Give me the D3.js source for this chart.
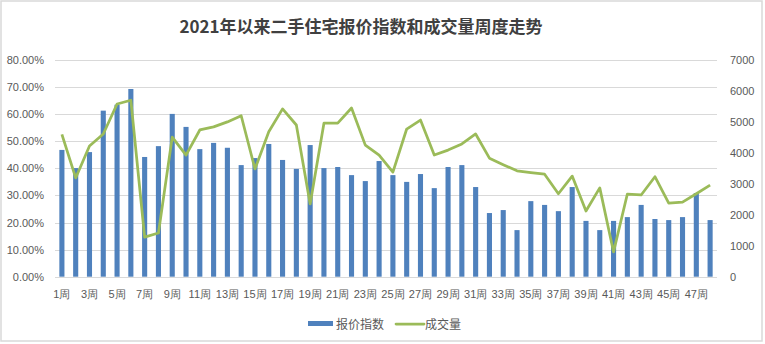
<!DOCTYPE html>
<html>
<head>
<meta charset="utf-8">
<script src="https://cdn.jsdelivr.net/npm/d3@7/dist/d3.min.js"></script>
<style>
  html, body { margin: 0; padding: 0; background: #fff; }
  svg { display: block; font-family: "Microsoft YaHei", "Noto Sans CJK SC", sans-serif; }
</style>
</head>
<body>
<svg id="chart" width="765" height="344"></svg>
<script>
// Weekly data since the start of 2021
const weeks = d3.range(1, 49).map(i => i + "周");
const priceIndex = [46.8, 40.1, 46.0, 61.3, 63.5, 69.3, 44.2, 48.2, 60.1, 55.3,
  47.1, 49.4, 47.6, 41.2, 43.8, 49.0, 43.1, 39.8, 48.6, 40.1,
  40.5, 37.5, 35.3, 42.7, 37.5, 35.0, 37.9, 32.7, 40.5, 41.2,
  33.1, 23.5, 24.6, 17.2, 27.9, 26.5, 24.2, 33.1, 20.6, 17.2,
  20.6, 22.0, 26.5, 21.3, 20.9, 22.0, 30.9, 20.9];
const volume = [4600, 3190, 4220, 4610, 5580, 5700, 1280, 1410, 4510, 3930,
  4740, 4840, 5000, 5200, 3480, 4680, 5420, 4900, 2350, 4960,
  4960, 5450, 4250, 3930, 3380, 4770, 5060, 3930, 4090, 4290,
  4610, 3830, 3620, 3420, 3360, 3310, 2680, 3250, 2120, 2870,
  800, 2670, 2640, 3230, 2380, 2410, 2680, 2960];
const leftTicks = [0, 10, 20, 30, 40, 50, 60, 70, 80];
const rightTicks = [0, 1000, 2000, 3000, 4000, 5000, 6000, 7000];
const seriesNames = ["报价指数", "成交量"];
const title = "2021年以来二手住宅报价指数和成交量周度走势";

const svg = d3.select("#chart");
const plot = { left: 55, right: 717, top: 60, bottom: 276.7 };

// outer frame
svg.append("rect").attr("x", 1).attr("y", 1).attr("width", 761).attr("height", 340)
  .attr("fill", "#fff").attr("stroke", "#d9d9d9").attr("stroke-width", 1.5);

const x = d3.scaleBand().domain(weeks).range([plot.left, plot.right]).paddingInner(0.63).paddingOuter(0.315);
const yL = d3.scaleLinear().domain([0, 80]).range([plot.bottom, plot.top]);
const yR = d3.scaleLinear().domain([0, 7000]).range([plot.bottom, plot.top]);

// title
svg.append("text").attr("x", 361).attr("y", 33).attr("text-anchor", "middle")
  .attr("font-size", 17).attr("font-weight", "bold").attr("fill", "#404040").text(title);

// gridlines
svg.append("g").selectAll("line").data(leftTicks).join("line")
  .attr("x1", plot.left).attr("x2", plot.right)
  .attr("y1", d => Math.round(yL(d)) + 0.5).attr("y2", d => Math.round(yL(d)) + 0.5)
  .attr("stroke", "#d9d9d9").attr("stroke-width", 1);

// left axis (percent)
const axL = svg.append("g").attr("transform", `translate(${plot.left},0)`)
  .call(d3.axisLeft(yL).tickValues(leftTicks).tickSize(0).tickPadding(11).tickFormat(d => d.toFixed(2) + "%"));
axL.select(".domain").remove();
axL.selectAll("text").attr("font-size", 11).attr("fill", "#595959").attr("font-family", "inherit");

// right axis (volume)
const axR = svg.append("g").attr("transform", `translate(${plot.right},0)`)
  .call(d3.axisRight(yR).tickValues(rightTicks).tickSize(0).tickPadding(13).tickFormat(d3.format("d")));
axR.select(".domain").remove();
axR.selectAll("text").attr("font-size", 11).attr("fill", "#595959").attr("font-family", "inherit");

// bottom axis: every other week labelled
const axB = svg.append("g").attr("transform", `translate(0,${plot.bottom})`)
  .call(d3.axisBottom(x).tickValues(weeks.filter((d, i) => i % 2 === 0)).tickSize(0).tickPadding(14));
axB.select(".domain").remove();
axB.selectAll("text").attr("font-size", 11).attr("fill", "#595959").attr("font-family", "inherit");

// bars
svg.append("g").selectAll("rect").data(priceIndex).join("rect")
  .attr("x", (d, i) => x(weeks[i])).attr("width", x.bandwidth())
  .attr("y", d => yL(d)).attr("height", d => yL(0) - yL(d))
  .attr("fill", "#4f81bd");

// line
const line = d3.line().x((d, i) => x(weeks[i]) + x.bandwidth() / 2).y(d => yR(d));
svg.append("path").datum(volume).attr("d", line)
  .attr("fill", "none").attr("stroke", "#9bbb59").attr("stroke-width", 2.75)
  .attr("stroke-linejoin", "round");

// legend
const lg = svg.append("g");
lg.append("rect").attr("x", 308).attr("y", 321).attr("width", 25).attr("height", 5).attr("fill", "#4f81bd");
lg.append("text").attr("x", 336).attr("y", 328.5).attr("font-size", 12).attr("fill", "#595959").text(seriesNames[0]);
lg.append("line").attr("x1", 396).attr("x2", 424).attr("y1", 324).attr("y2", 324)
  .attr("stroke", "#9bbb59").attr("stroke-width", 2.75).attr("stroke-linecap", "round");
lg.append("text").attr("x", 425).attr("y", 328.5).attr("font-size", 12).attr("fill", "#595959").text(seriesNames[1]);
</script>
</body>
</html>
